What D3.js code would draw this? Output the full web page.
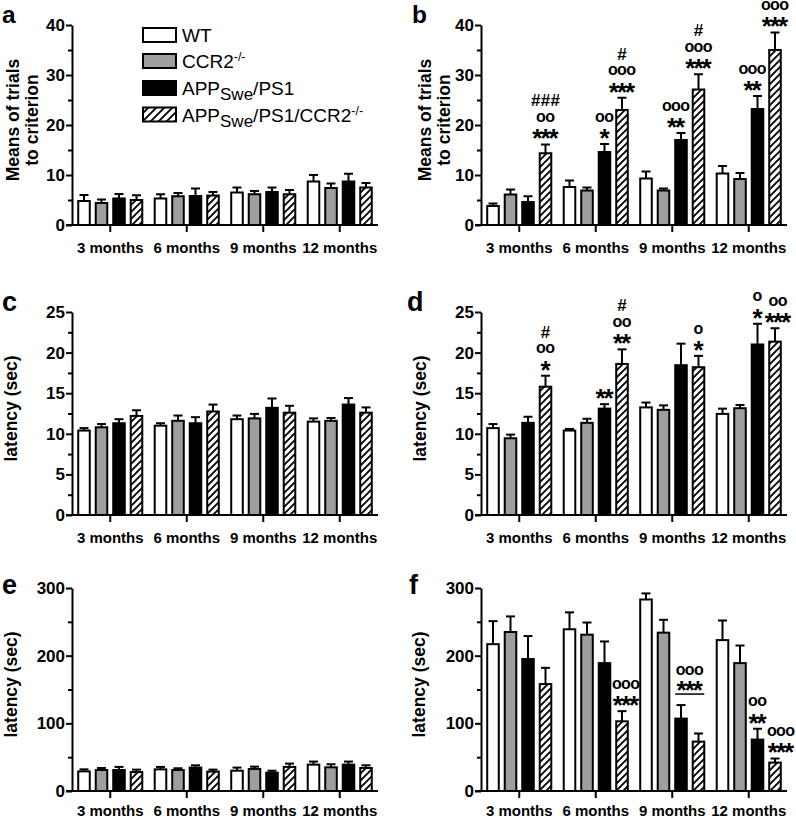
<!DOCTYPE html>
<html><head><meta charset="utf-8">
<script src="https://cdn.jsdelivr.net/npm/d3@7"></script>
<style>body{margin:0;background:#fff;} svg{display:block;font-family:"Liberation Sans",Arial,Helvetica,sans-serif;}</style>
</head><body><svg id="chart" width="796" height="819"></svg>
<script>
// ---------------- DATA ----------------
const months = ["3 months", "6 months", "9 months", "12 months"];
const groupNames = ["WT", "CCR2-/-", "APPSwe/PS1", "APPSwe/PS1/CCR2-/-"];

// rows = groups (WT, CCR2-/-, APPSwe/PS1, APPSwe/PS1/CCR2-/-), columns = months
const aMeans = [[4.8, 5.3, 6.5, 8.7], [4.4, 5.75, 6.15, 7.4], [5.3, 5.8, 6.6, 8.7], [5.0, 5.9, 6.15, 7.5]];
const aSem   = [[1.2, 0.85, 1.0, 1.3], [0.7, 0.65, 0.65, 0.9], [0.9, 1.5, 0.9, 1.55], [0.95, 0.7, 0.85, 0.9]];

const bMeans = [[3.8, 7.6, 9.3, 10.3], [6.1, 6.9, 6.9, 9.2], [4.6, 14.6, 17.0, 23.2], [14.35, 23.0, 27.1, 35.0]];
const bSem   = [[0.5, 1.3, 1.4, 1.5], [1.0, 0.6, 0.4, 1.2], [1.15, 1.6, 1.4, 2.6], [1.75, 2.45, 3.05, 3.5]];

const cMeans = [[10.4, 11.0, 11.8, 11.5], [10.8, 11.6, 11.9, 11.6], [11.3, 11.3, 13.2, 13.6], [12.2, 12.75, 12.6, 12.6]];
const cSem   = [[0.3, 0.3, 0.45, 0.4], [0.4, 0.65, 0.55, 0.35], [0.5, 0.75, 1.15, 0.8], [0.7, 0.85, 0.85, 0.65]];

const dMeans = [[10.7, 10.4, 13.25, 12.45], [9.45, 11.35, 12.95, 13.15], [11.35, 13.1, 18.45, 21.0], [15.8, 18.6, 18.2, 21.35]];
const dSem   = [[0.5, 0.2, 0.6, 0.65], [0.45, 0.5, 0.55, 0.4], [0.75, 0.55, 2.65, 2.55], [1.35, 1.8, 1.4, 1.65]];

const eMeans = [[29, 32, 30, 39], [31, 31, 32.6, 35], [31, 34.6, 27, 39], [28, 28.7, 35.6, 34]];
const eSem   = [[3, 3.6, 4.6, 4.5], [3, 2.6, 3.4, 4.5], [4.6, 3.4, 3, 4.5], [3.6, 2.9, 4.9, 4]];

const fMeans = [[217, 239, 283, 223], [235, 231, 234, 189], [195, 189, 107, 76], [158, 103, 73, 42]];
const fSem   = [[34, 25, 9, 29], [23, 18, 19, 26], [34, 32, 20, 16], [24, 15, 12, 6]];

const trialTicks = [0, 10, 20, 30, 40];
const trialMinor = [5, 15, 25, 35];
const latTicks = [0, 5, 10, 15, 20, 25];
const latMinor = [2.5, 7.5, 12.5, 17.5, 22.5];
const longTicks = [0, 100, 200, 300];
const longMinor = [50, 150, 250];

// significance marks (listed bottom to top)
const annotations = [
  {panel: "b", month: 0, series: [3], marks: ["***", "oo", "###"]},
  {panel: "b", month: 1, series: [2], marks: ["*", "oo"]},
  {panel: "b", month: 1, series: [3], marks: ["***", "ooo", "#"]},
  {panel: "b", month: 2, series: [2], marks: ["**", "ooo"]},
  {panel: "b", month: 2, series: [3], marks: ["***", "ooo", "#"]},
  {panel: "b", month: 3, series: [2], marks: ["**", "ooo"]},
  {panel: "b", month: 3, series: [3], marks: ["***", "ooo"]},
  {panel: "d", month: 0, series: [3], marks: ["*", "oo", "#"]},
  {panel: "d", month: 1, series: [2], marks: ["**"]},
  {panel: "d", month: 1, series: [3], marks: ["**", "oo", "#"]},
  {panel: "d", month: 2, series: [3], marks: ["*", "o"]},
  {panel: "d", month: 3, series: [2], marks: ["*", "o"]},
  {panel: "d", month: 3, series: [3], marks: ["***", "oo"]},
  {panel: "f", month: 1, series: [3], marks: ["***", "ooo"]},
  {panel: "f", month: 2, series: [2, 3], marks: ["***", "ooo"]},
  {panel: "f", month: 3, series: [2], marks: ["**", "oo"]},
  {panel: "f", month: 3, series: [3], marks: ["***", "ooo"]}
];

// ---------------- LAYOUT ----------------
const colX = [72, 481];
const plotW = 306;
const rows = [{base: 225, top: 25}, {base: 515, top: 312}, {base: 791, top: 588}];
const fills = ["#ffffff", "#9e9e9e", "#000000", "url(#hatch)"];
const nudges = {"b-2-2": -5, "b-3-2": -5, "d-3-3": 3, "f-1-3": 4, "f-3-3": 6};

const panels = [
  {id: "a", col: 0, row: 0, means: aMeans, sem: aSem, ticks: trialTicks, minor: trialMinor, title: ["Means of trials", "to criterion"], titleX: [19, 38], letterX: 2},
  {id: "b", col: 1, row: 0, means: bMeans, sem: bSem, ticks: trialTicks, minor: trialMinor, title: ["Means of trials", "to criterion"], titleX: [431, 450], letterX: 412},
  {id: "c", col: 0, row: 1, means: cMeans, sem: cSem, ticks: latTicks, minor: latMinor, title: ["latency (sec)"], titleX: [17], letterX: 2},
  {id: "d", col: 1, row: 1, means: dMeans, sem: dSem, ticks: latTicks, minor: latMinor, title: ["latency (sec)"], titleX: [426], letterX: 407},
  {id: "e", col: 0, row: 2, means: eMeans, sem: eSem, ticks: longTicks, minor: longMinor, title: ["latency (sec)"], titleX: [17], letterX: 2},
  {id: "f", col: 1, row: 2, means: fMeans, sem: fSem, ticks: longTicks, minor: longMinor, title: ["latency (sec)"], titleX: [425], letterX: 409}
];

const svg = d3.select("#chart");
const defs = svg.append("defs");
function hatch(id, s) {
  const p = defs.append("pattern").attr("id", id).attr("patternUnits", "userSpaceOnUse")
    .attr("width", s).attr("height", s);
  p.append("rect").attr("width", s).attr("height", s).attr("fill", "#fff");
  p.append("path").attr("d", `M-1,1 l2,-2 M0,${s} l${s},-${s} M${s - 1},${s + 1} l2,-2`)
    .attr("stroke", "#000").attr("stroke-width", 1.9);
}
hatch("hatch", 7);
hatch("hatchL", 8);

const panelById = {};

panels.forEach(p => {
  const x0 = colX[p.col];
  const r = rows[p.row];
  const yMax = p.ticks[p.ticks.length - 1];
  const y = d3.scaleLinear().domain([0, yMax]).range([r.base, r.top]);
  const x = d3.scaleBand().domain(months).range([x0, x0 + plotW]).padding(0);
  const inner = d3.scaleBand().domain(d3.range(4)).range([-35, 35]).paddingInner(0.34).paddingOuter(0.17);
  panelById[p.id] = {p, x, y, inner};
  const g = svg.append("g");

  // bars
  p.means.forEach((vals, s) => {
    vals.forEach((v, m) => {
      const cx = x(months[m]) + x.bandwidth() / 2;
      const bx = cx + inner(s);
      const bw = inner.bandwidth();
      const top = y(v + p.sem[s][m]);
      const xc = bx + bw / 2;
      g.append("line").attr("x1", xc).attr("x2", xc).attr("y1", y(v)).attr("y2", top)
        .attr("stroke", "#000").attr("stroke-width", 2);
      g.append("line").attr("x1", xc - 4.5).attr("x2", xc + 4.5).attr("y1", top).attr("y2", top)
        .attr("stroke", "#000").attr("stroke-width", 2);
      g.append("rect").attr("x", bx).attr("y", y(v)).attr("width", bw).attr("height", y(0) - y(v))
        .attr("fill", fills[s]).attr("stroke", "#000").attr("stroke-width", 2);
    });
  });

  // y axis
  const ya = g.append("g").attr("transform", `translate(${x0},0)`)
    .call(d3.axisLeft(y).tickValues(p.ticks).tickSize(6).tickSizeOuter(0).tickPadding(1).tickFormat(d3.format("d")));
  ya.select(".domain").attr("stroke-width", 2);
  ya.selectAll(".tick line").attr("stroke-width", 2);
  ya.selectAll("text").attr("font-size", 17).attr("font-weight", "bold").attr("font-family", null).attr("fill", "#000");
  const ym = g.append("g").attr("transform", `translate(${x0},0)`)
    .call(d3.axisLeft(y).tickValues(p.minor).tickSize(4).tickSizeOuter(0).tickFormat(""));
  ym.select(".domain").remove();
  ym.selectAll(".tick line").attr("stroke-width", 2);

  // x axis
  const xa = g.append("g").attr("transform", `translate(0,${r.base})`)
    .call(d3.axisBottom(x).tickSize(7).tickSizeOuter(0));
  xa.select(".domain").attr("stroke-width", 2).attr("d", `M${x0 - 6},0H${x0 + plotW}`);
  xa.selectAll(".tick line").attr("stroke-width", 2);
  xa.selectAll("text").attr("y", p.row === 2 ? 25 : 28).attr("dy", 0).attr("font-size", 15).attr("font-weight", "bold")
    .attr("font-family", null).attr("fill", "#000");

  // y title
  const cy = (r.base + r.top) / 2 - 5;
  p.title.forEach((t, i) => {
    svg.append("text").attr("transform", `translate(${p.titleX[i]},${cy}) rotate(-90)`)
      .attr("text-anchor", "middle").attr("font-size", 17.5).attr("font-weight", "bold").text(t);
  });

  // panel letter
  svg.append("text").attr("x", p.letterX).attr("y", p.row === 0 ? 22.5 : (p.row === 1 ? 311 : 594))
    .attr("font-size", p.row === 0 ? 24.5 : 27).attr("font-weight", "bold").text(p.id);
});

// annotations: each stack is one multi-line text
const markStyle = {
  "*": {fs: 26, off: 0.57, ls: -2},
  "o": {fs: 16, off: 0.26, ls: -0.6},
  "#": {fs: 17, off: 0.35, ls: 0.3}
};
function stackOffsets(marks, first, gap) {
  const out = [];
  let c = first;
  marks.forEach((m, k) => {
    if (k > 0) c -= (m[0] === "#" ? gap + 3 : gap);
    out.push(c);
  });
  return out;
}
function drawStack(marks, cx, centers) {
  const t = svg.append("text").attr("text-anchor", "middle").attr("font-weight", "bold");
  // draw from top line to bottom line
  marks.map((m, k) => ({m, c: centers[k]})).reverse().forEach(({m, c}) => {
    const st = markStyle[m[0]];
    t.append("tspan").attr("x", cx + st.ls / 2).attr("y", c + st.off * st.fs)
      .attr("font-size", st.fs).attr("letter-spacing", st.ls).text(m);
  });
}
annotations.forEach(a => {
  const {p, x, y, inner} = panelById[a.panel];
  const gc = x(months[a.month]) + x.bandwidth() / 2;
  const centers = a.series.map(s => gc + inner(s) + inner.bandwidth() / 2);
  const tops = a.series.map(s => y(p.means[s][a.month] + p.sem[s][a.month]));
  const errTop = d3.min(tops);
  const key = `${a.panel}-${a.month}-${a.series[a.series.length - 1]}`;
  const cx = d3.mean(centers) + (nudges[key] || 0);
  if (a.series.length > 1) {
    const lineY = errTop - 11;
    const l = gc + inner(a.series[0]);
    const rr = gc + inner(a.series[a.series.length - 1]) + inner.bandwidth();
    svg.append("line").attr("x1", l).attr("x2", rr).attr("y1", lineY).attr("y2", lineY)
      .attr("stroke", "#000").attr("stroke-width", 1.5);
    drawStack(a.marks, cx, stackOffsets(a.marks, lineY - 10, 13.5));
  } else {
    drawStack(a.marks, cx, stackOffsets(a.marks, errTop - 12, 14.5));
  }
});

// legend (panel a)
const legRows = [35, 61, 88, 114.5];
const leg = svg.append("g");
groupNames.forEach((n, i) => {
  leg.append("rect").attr("x", 143).attr("y", legRows[i] - 7).attr("width", 33).attr("height", 14)
    .attr("fill", i === 3 ? "url(#hatchL)" : fills[i]).attr("stroke", "#000").attr("stroke-width", 2);
  const t = leg.append("text").attr("x", 182).attr("y", legRows[i] + 7).attr("font-size", 19);
  if (i === 0) t.text("WT");
  if (i === 1) { t.append("tspan").text("CCR2"); t.append("tspan").attr("font-size", 12.5).attr("dy", -7).text("-/-"); }
  if (i >= 2) {
    t.append("tspan").text("APP");
    t.append("tspan").attr("font-size", 17).attr("dy", 5).text("Swe");
    t.append("tspan").attr("dy", -5).text(i === 2 ? "/PS1" : "/PS1/CCR2");
    if (i === 3) t.append("tspan").attr("font-size", 12.5).attr("dy", -7).text("-/-");
  }
});
</script></body></html>
